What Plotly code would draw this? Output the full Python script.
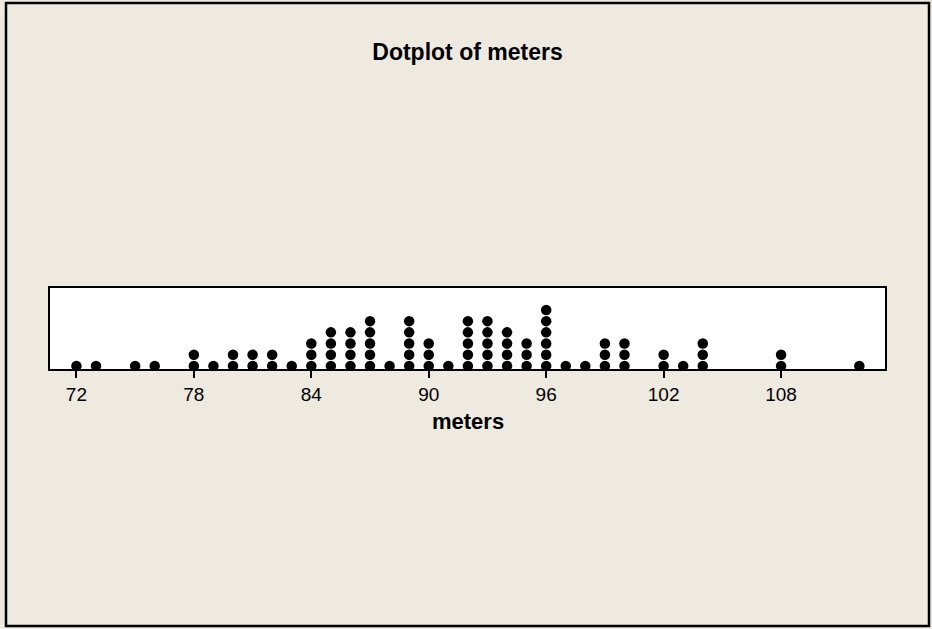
import plotly.graph_objects as go

# Data read from the dotplot: distinct values and how many dots are stacked at each
meters_values = [72, 73, 75, 76, 78, 79, 80, 81, 82, 83, 84, 85, 86, 87, 88, 89, 90, 91,
                 92, 93, 94, 95, 96, 97, 98, 99, 100, 102, 103, 104, 108, 112]
meters_counts = [1, 1, 1, 1, 2, 1, 2, 2, 2, 1, 3, 4, 4, 5, 1, 5, 3, 1,
                 5, 5, 4, 3, 6, 1, 1, 3, 3, 2, 1, 3, 2, 1]
tick_values = [72, 78, 84, 90, 96, 102, 108]
tick_labels = ["72", "78", "84", "90", "96", "102", "108"]
chart_title = "Dotplot of meters"
axis_title = "meters"

xs, ys = [], []
for v, c in zip(meters_values, meters_counts):
    for k in range(1, c + 1):
        xs.append(v)
        ys.append(k)

W, H = 932, 629
ml, mr, mt, mb = 50, 47, 288, 260
pw = W - ml - mr
ph = H - mt - mb

def px_x(p):
    return (p - ml) / pw

def px_y(p):
    return (H - mb - p) / ph

bg = "#EEEAE0"

fig = go.Figure(go.Scatter(
    x=xs, y=ys, mode="markers",
    marker=dict(color="black", size=10.5, line=dict(width=0)),
    hoverinfo="x",
))

fig.update_layout(
    width=W, height=H,
    margin=dict(l=ml, r=mr, t=mt, b=mb, autoexpand=False),
    paper_bgcolor=bg,
    plot_bgcolor="white",
    showlegend=False,
    title=dict(text="<b>" + chart_title + "</b>", x=(ml + pw / 2) / W, xanchor="center",
               y=1 - 52 / H, yanchor="middle", yref="container",
               font=dict(family="Liberation Sans", size=23, color="black")),
    xaxis=dict(range=[70.65, 113.31], tickvals=tick_values, ticktext=tick_labels,
               ticks="outside", ticklen=7, tickwidth=2, tickcolor="black",
               showline=True, linecolor="black", linewidth=2, mirror=True,
               showgrid=False, zeroline=False,
               tickfont=dict(family="Liberation Sans", size=19, color="black")),
    yaxis=dict(range=[0.73, 7.96], showticklabels=False, ticks="",
               showline=True, linecolor="black", linewidth=2, mirror=True,
               showgrid=False, zeroline=False),
    annotations=[dict(text="<b>" + axis_title + "</b>", xref="paper", yref="paper",
                      x=0.5, y=px_y(421), xanchor="center", yanchor="middle",
                      showarrow=False,
                      font=dict(family="Liberation Sans", size=22, color="black"))],
    shapes=[dict(type="rect", xref="paper", yref="paper",
                 x0=px_x(6), x1=px_x(929), y0=px_y(626), y1=px_y(3),
                 line=dict(color="black", width=2.5), fillcolor="rgba(0,0,0,0)", layer="below")],
)

fig.write_html("out.html", config={"displayModeBar": False},
               post_script="document.body.style.margin='0';")
